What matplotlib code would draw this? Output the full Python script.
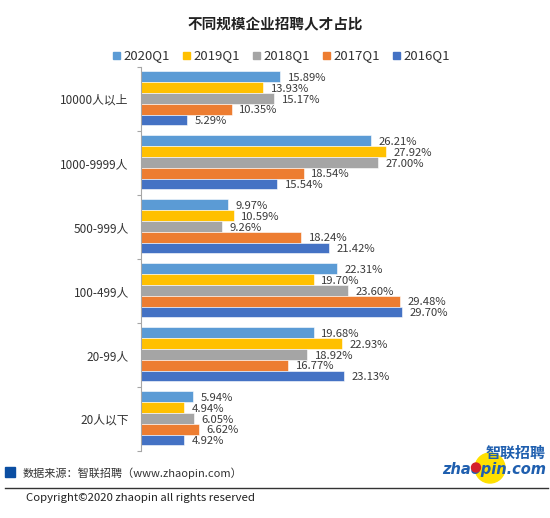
import numpy as np
import matplotlib.pyplot as plt
from matplotlib.patches import Rectangle, Circle

plt.rcParams['font.family'] = ['Noto Sans CJK SC', 'DejaVu Sans']

categories = ['10000人以上', '1000-9999人', '500-999人', '100-499人', '20-99人', '20人以下']
series = ['2020Q1', '2019Q1', '2018Q1', '2017Q1', '2016Q1']
colors = ['#5B9BD5', '#FFC000', '#A5A5A5', '#ED7D31', '#4472C4']
v2020 = [15.89, 26.21, 9.97, 22.31, 19.68, 5.94]
v2019 = [13.93, 27.92, 10.59, 19.70, 22.93, 4.94]
v2018 = [15.17, 27.00, 9.26, 23.60, 18.92, 6.05]
v2017 = [10.35, 18.54, 18.24, 29.48, 16.77, 6.62]
v2016 = [5.29, 15.54, 21.42, 29.70, 23.13, 4.92]
values = [v2020, v2019, v2018, v2017, v2016]

W, H = 550, 518
fig = plt.figure(figsize=(W / 100, H / 100), dpi=100)

# main bar axes, placed in pixel terms
ax_left, ax_top, ax_bot = 140.7, 67, 451
px_per_pct = 8.79
xmax = 40
ax = fig.add_axes([ax_left / W, 1 - ax_bot / H, xmax * px_per_pct / W, (ax_bot - ax_top) / H])

y = np.arange(len(categories))
h = 54 / 64 / 5
for k, (vals, c) in enumerate(zip(values, colors)):
    pos = y + (k - 2) * h - 0.01
    ax.barh(pos, vals, height=h, color=c, edgecolor='white', linewidth=0.4)
    for p, v in zip(pos, vals):
        ax.text(v + 7.5 / px_per_pct, p + 0.02, f'{v:.2f}%', va='center', ha='left',
                fontsize=8.1, color='#3a3a3a')

ax.set_xlim(0, xmax)
ax.set_ylim(len(categories) - 0.5, -0.5)
ax.set_yticks(y)
ax.set_yticklabels(categories, fontsize=8.5, color='#333333')
ax.set_yticks(np.arange(-0.5, len(categories)), minor=True)
ax.tick_params(axis='y', which='major', length=0, pad=8.6)
ax.tick_params(axis='y', which='minor', length=3, color='#A6A6A6', width=0.8)
ax.set_xticks([])
for s in ['top', 'right', 'bottom']:
    ax.spines[s].set_visible(False)
ax.spines['left'].set_color('#A6A6A6')
ax.spines['left'].set_linewidth(0.8)

# overlay axes in pixel coords for title, legend, footer
ov2 = fig.add_axes([0, 0, 1, 1], zorder=5)
ov2.set_xlim(0, W)
ov2.set_ylim(H, 0)
ov2.axis('off')

ov2.text(275, 24, '不同规模企业招聘人才占比', ha='center', va='center',
         fontsize=10.5, fontweight='bold', color='#222222')

leg_x = [113, 183, 253, 323, 393]
for lx, name, c in zip(leg_x, series, colors):
    ov2.add_patch(Rectangle((lx, 52), 7, 7, color=c))
    ov2.text(lx + 10, 56, name, ha='left', va='center', fontsize=9.5, color='#333333')

# footer
ov2.add_patch(Rectangle((5, 467), 10, 10, color='#0B4EA2'))
ov2.text(23, 473, '数据来源：智联招聘（www.zhaopin.com）', ha='left', va='center',
         fontsize=8.0, color='#333333')
ov2.plot([5, 548], [488, 488], color='#333333', lw=1)
ov2.text(26, 498, 'Copyright©2020 zhaopin all rights reserved', ha='left', va='center',
         fontsize=8.2, color='#222222')

# logo
ov2.add_patch(Circle((490, 468), 15, color='#FFE000', zorder=1))
ov2.text(546, 453, '智联招聘', ha='right', va='center', fontsize=10.8, fontweight='bold',
         color='#1F5FAF', style='italic', zorder=3)
ov2.text(546, 469.5, 'zhaopin.com', ha='right', va='center', fontsize=10.5, fontweight='bold',
         color='#1F5FAF', style='italic', family='DejaVu Sans', zorder=3)
ov2.add_patch(Circle((476, 467.5), 4.5, color='#D4202A', zorder=4))

fig.savefig('out.png', dpi=100)
